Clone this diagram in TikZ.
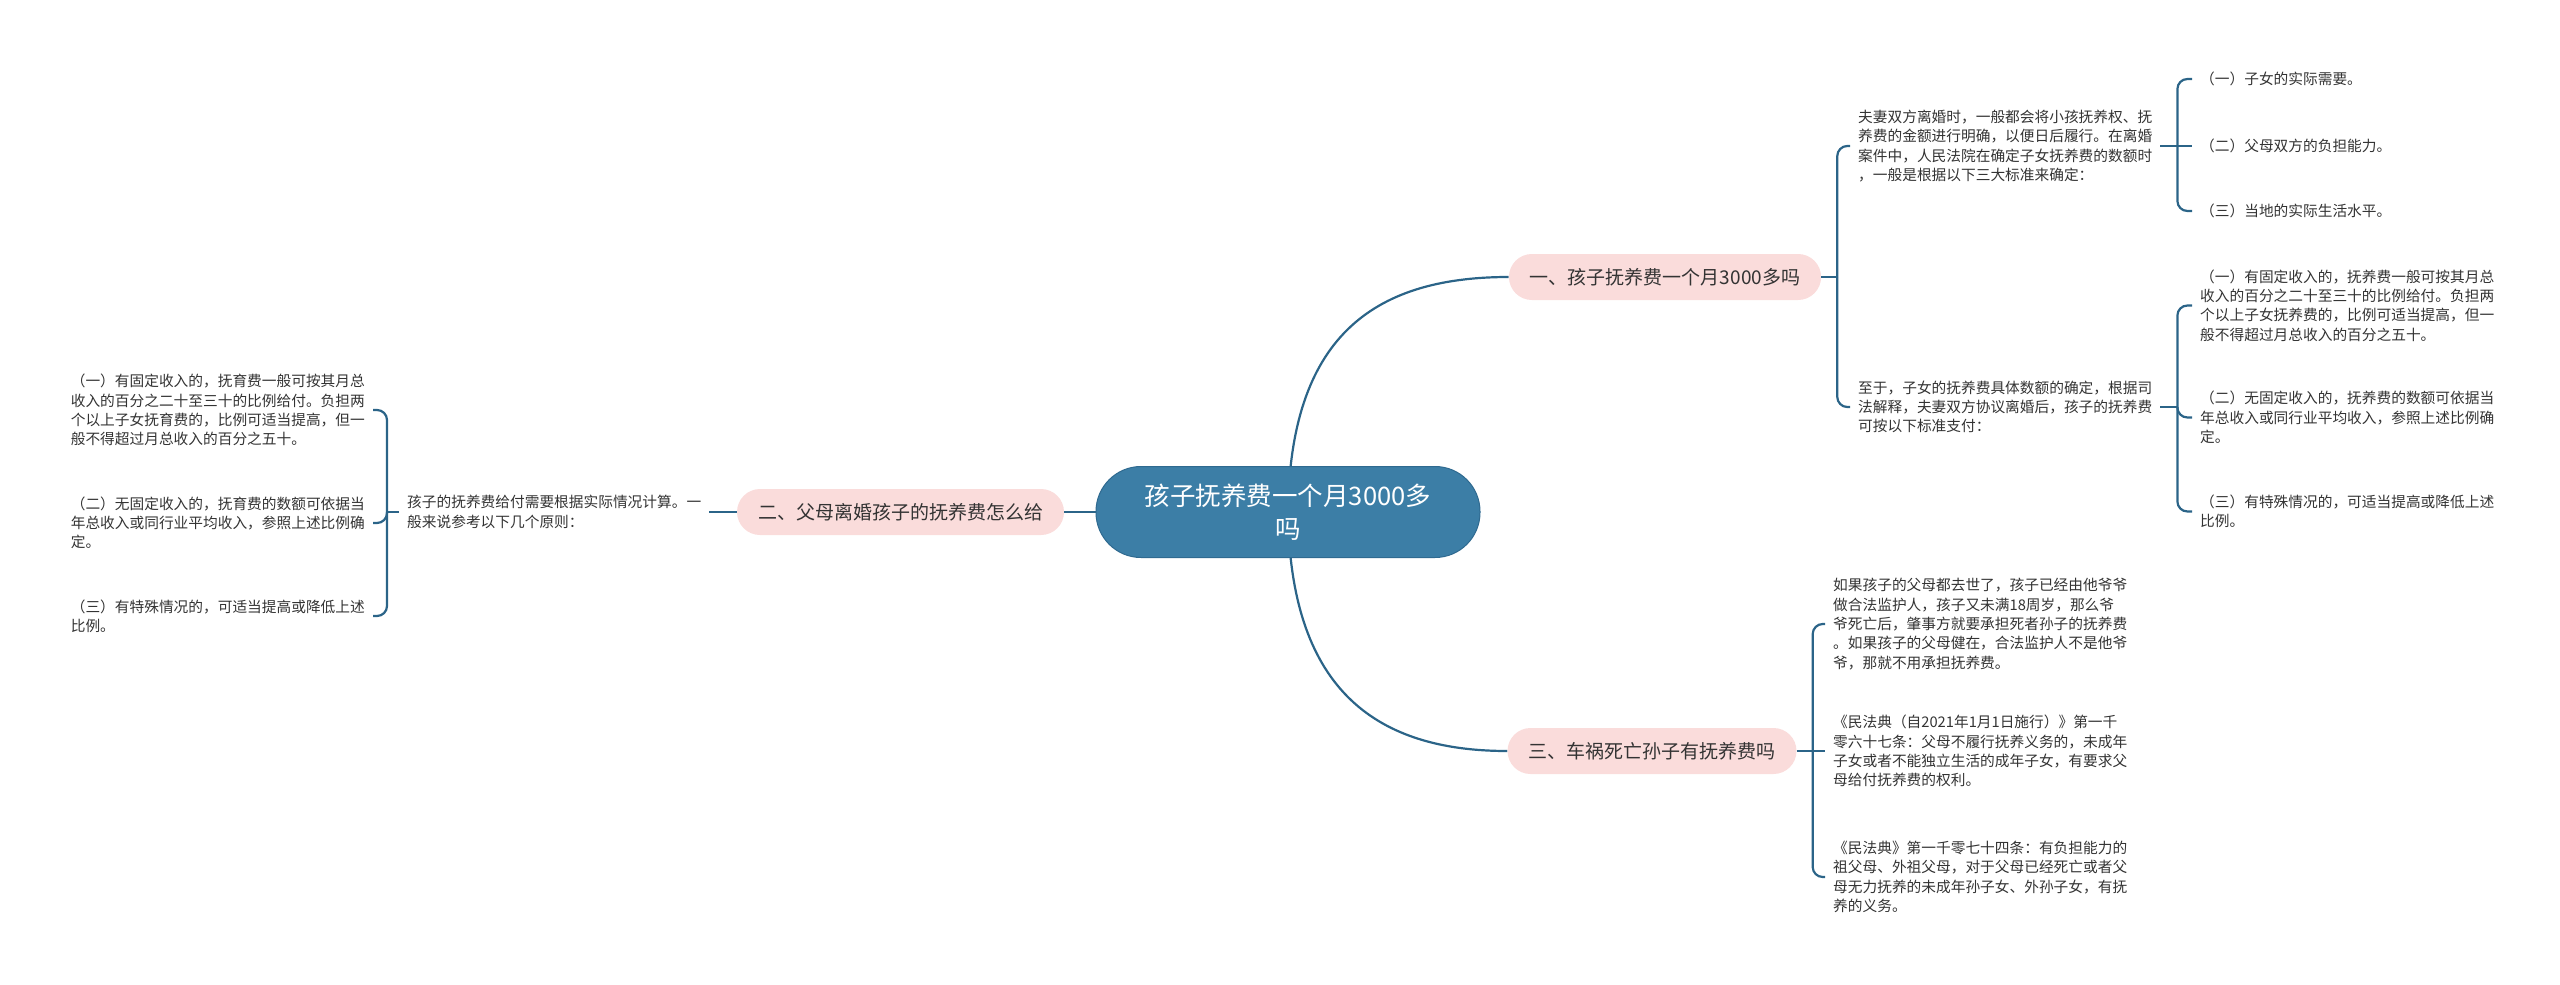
\documentclass[tikz,border=0pt]{standalone}
\usepackage{fontspec}
\setmainfont{Noto Sans CJK SC}
\usetikzlibrary{backgrounds,calc}
\definecolor{lineblue}{HTML}{2B6488}
\definecolor{rootblue}{HTML}{3C7EA6}
\definecolor{rootedge}{HTML}{2F6A90}
\definecolor{pinkfill}{HTML}{FADCDB}
\definecolor{textdark}{HTML}{333333}
\begin{document}
\begin{tikzpicture}[x=1pt,y=-1pt,
  rootbox/.style={fill=rootblue, draw=rootedge, line width=1pt, rounded corners=45pt,
    minimum width=384pt, minimum height=91pt, text=white, align=center, inner sep=0pt,
    font=\fontsize{25.5}{33}\selectfont},
  branchbox/.style={fill=pinkfill, rounded corners=23pt, minimum height=46pt,
    inner xsep=21pt, inner ysep=0pt, text=textdark, font=\fontsize{19}{24}\selectfont},
  leaf/.style={align=left, inner xsep=8pt, inner ysep=0pt, text=textdark,
    font=\fontsize{14.7}{19.3}\selectfont},
  conn/.style={draw=lineblue, line width=2.2pt},
  brk/.style={conn, rounded corners=10pt}]
\useasboundingbox (0,0) rectangle (2560,985);

% main nodes
\node[rootbox] (root) at (1288,512) {孩子抚养费一个月3000多\\吗};
\node[branchbox] (b1) at (1665,277) {一、孩子抚养费一个月3000多吗};
\node[branchbox] (b2) at (900.5,512) {二、父母离婚孩子的抚养费怎么给};
\node[branchbox] (b3) at (1652,751) {三、车祸死亡孙子有抚养费吗};

% branch 1 subtree
\node[leaf, anchor=west] (p1) at (1850,146) {夫妻双方离婚时，一般都会将小孩抚养权、抚\\养费的金额进行明确，以便日后履行。在离婚\\案件中，人民法院在确定子女抚养费的数额时\\，一般是根据以下三大标准来确定：};
\node[leaf, anchor=west] (p2) at (1850,407) {至于，子女的抚养费具体数额的确定，根据司\\法解释，夫妻双方协议离婚后，孩子的抚养费\\可按以下标准支付：};

\node[leaf, anchor=west] (c11) at (2192,79) {（一）子女的实际需要。};
\node[leaf, anchor=west] (c12) at (2192,146) {（二）父母双方的负担能力。};
\node[leaf, anchor=west] (c13) at (2192,211) {（三）当地的实际生活水平。};

\node[leaf, anchor=west] (c21) at (2192,305.5) {（一）有固定收入的，抚养费一般可按其月总\\收入的百分之二十至三十的比例给付。负担两\\个以上子女抚养费的，比例可适当提高，但一\\般不得超过月总收入的百分之五十。};
\node[leaf, anchor=west] (c22) at (2192,417.5) {（二）无固定收入的，抚养费的数额可依据当\\年总收入或同行业平均收入，参照上述比例确\\定。};
\node[leaf, anchor=west] (c23) at (2192,511.5) {（三）有特殊情况的，可适当提高或降低上述\\比例。};

% branch 2 subtree
\node[leaf, anchor=west] (pl) at (399,512) {孩子的抚养费给付需要根据实际情况计算。一\\般来说参考以下几个原则：};
\node[leaf, anchor=east] (l1) at (373,410) {（一）有固定收入的，抚育费一般可按其月总\\收入的百分之二十至三十的比例给付。负担两\\个以上子女抚育费的，比例可适当提高，但一\\般不得超过月总收入的百分之五十。};
\node[leaf, anchor=east] (l2) at (373,523) {（二）无固定收入的，抚育费的数额可依据当\\年总收入或同行业平均收入，参照上述比例确\\定。};
\node[leaf, anchor=east] (l3) at (373,616) {（三）有特殊情况的，可适当提高或降低上述\\比例。};

% branch 3 subtree
\node[leaf, anchor=west] (q1) at (1825,624) {如果孩子的父母都去世了，孩子已经由他爷爷\\做合法监护人，孩子又未满18周岁，那么爷\\爷死亡后，肇事方就要承担死者孙子的抚养费\\。如果孩子的父母健在，合法监护人不是他爷\\爷，那就不用承担抚养费。};
\node[leaf, anchor=west] (q2) at (1825,751) {《民法典（自2021年1月1日施行）》第一千\\零六十七条：父母不履行抚养义务的，未成年\\子女或者不能独立生活的成年子女，有要求父\\母给付抚养费的权利。};
\node[leaf, anchor=west] (q3) at (1825,877) {《民法典》第一千零七十四条：有负担能力的\\祖父母、外祖父母，对于父母已经死亡或者父\\母无力抚养的未成年孙子女、外孙子女，有抚\\养的义务。};

% root connectors
\begin{scope}[on background layer]
\draw[conn] (root.center) .. controls (1290,340) and (1370,277) .. (b1.west);
\draw[conn] (root.center) .. controls (1290,684) and (1370,751) .. (b3.west);
\draw[conn] (root.center) -- (b2.east);
\end{scope}

% bracket points
\coordinate (k1) at ($(b1.east)+(16,0)$);
\coordinate (k2) at ($(p1.east)+(17,0)$);
\coordinate (k3) at ($(p2.east)+(17,0)$);
\coordinate (k5) at ($(b3.east)+(16,0)$);
\coordinate (k6) at ($(pl.west)+(-12,0)$);

% branch 1 connectors
\draw[conn] (b1.east) -- (k1);
\draw[brk] (k1) |- (p1.west);
\draw[brk] (k1) |- (p2.west);
\draw[conn] (p1.east) -- (k2);
\draw[brk] (k2) |- (c11.west);
\draw[conn] (k2) -- (c12.west);
\draw[brk] (k2) |- (c13.west);
\draw[conn] (p2.east) -- (k3);
\draw[brk] (k3) |- (c21.west);
\draw[brk] (k3) |- (c22.west);
\draw[brk] (k3) |- (c23.west);

% branch 2 connectors
\draw[conn] (b2.west) -- (pl.east);
\draw[conn] (pl.west) -- (k6);
\draw[brk] (k6) |- (l1.east);
\draw[brk] (k6) |- (l2.east);
\draw[brk] (k6) |- (l3.east);

% branch 3 connectors
\draw[conn] (b3.east) -- (k5);
\draw[brk] (k5) |- (q1.west);
\draw[conn] (k5) -- (q2.west);
\draw[brk] (k5) |- (q3.west);
\end{tikzpicture}
\end{document}
